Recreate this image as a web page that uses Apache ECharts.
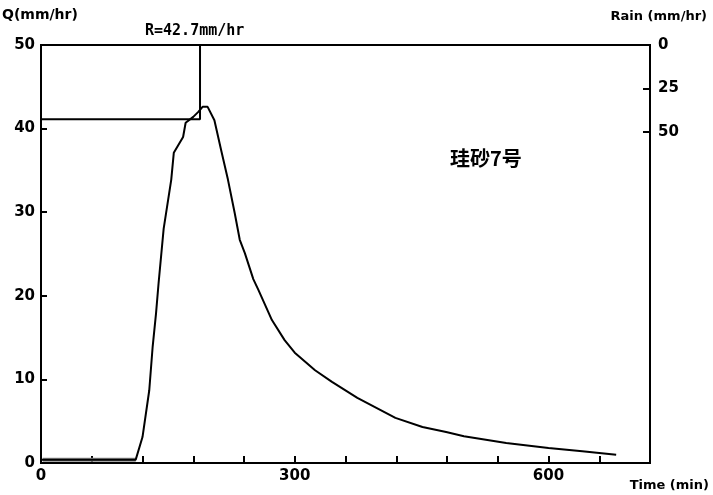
<!DOCTYPE html>
<html>
<head>
<meta charset="utf-8">
<script src="https://cdn.jsdelivr.net/npm/echarts@6/dist/echarts.min.js"></script>
<style>
  html, body { margin: 0; padding: 0; background: #fff; }
  #chart { width: 713px; height: 495px; }
</style>
</head>
<body>
<div id="chart"></div>
<script>
// discharge Q (mm/hr) vs time (min)
const qTime = [0, 112, 114, 120, 128, 132, 136, 139, 145, 154, 157, 168, 171, 180, 186, 191, 197, 205, 213, 221, 229, 235, 241, 251, 257, 273, 288, 300, 324, 344, 374, 419, 451, 479, 500, 550, 600, 640, 680];
const qValue = [0.4, 0.4, 0.3, 3.1, 8.7, 13.9, 17.9, 21.5, 28.0, 33.9, 37.1, 39.0, 40.7, 41.4, 42.0, 42.6, 42.6, 41.0, 37.4, 33.9, 29.9, 26.7, 25.1, 22.0, 20.7, 17.1, 14.7, 13.2, 11.1, 9.7, 7.8, 5.4, 4.3, 3.7, 3.2, 2.4, 1.8, 1.4, 1.0];

// baseline before runoff starts (grey band)
const baseTime = [2, 112];
const baseValue = [0.4, 0.4];

// rainfall intensity (mm/hr), plotted downward from the top
const rainTime = [0, 188, 188];
const rainValue = [42.7, 42.7, 0];

const timeLabels = [0, 300, 600];
const rainLabels = [0, 25, 50];

const font = '"DejaVu Sans", sans-serif';
const chart = echarts.init(document.getElementById('chart'));

const pairs = (xs, ys) => xs.map((x, i) => [x, ys[i]]);

chart.setOption({
  animation: false,
  backgroundColor: '#fff',
  grid: { left: 41, right: 63, top: 45, bottom: 32, show: true, borderColor: '#000', borderWidth: 2 },
  graphic: [
    { type: 'text', left: 2, top: 8, style: { text: 'Q(mm/hr)', font: 'bold 14px ' + font, fill: '#000' } },
    { type: 'text', left: 145, top: 24, style: { text: 'R=42.7mm/hr', font: 'bold 15px "DejaVu Sans Mono", monospace', fill: '#000' } },
    { type: 'text', right: 6, top: 10, style: { text: 'Rain (mm/hr)', font: 'bold 13px ' + font, fill: '#000' } },
    { type: 'text', right: 4, top: 479, style: { text: 'Time (min)', font: 'bold 13px ' + font, fill: '#000' } },
    { type: 'text', left: 450, top: 148, style: { text: '珪砂7号', font: 'bold 20px "Noto Sans CJK JP", sans-serif', fill: '#000' } }
  ],
  xAxis: {
    type: 'value', min: 0, max: 720, interval: 60,
    axisLine: { lineStyle: { color: '#000', width: 2 } },
    axisTick: { inside: true, length: 7, lineStyle: { color: '#000', width: 2 } },
    axisLabel: { customValues: timeLabels, color: '#000', fontFamily: font, fontWeight: 'bold', fontSize: 15, margin: 6 },
    splitLine: { show: false }
  },
  yAxis: [
    {
      type: 'value', min: 0, max: 50, interval: 10,
      axisLine: { show: true, lineStyle: { color: '#000', width: 2 } },
      axisTick: { show: true, inside: true, length: 6, lineStyle: { color: '#000', width: 2 } },
      axisLabel: { color: '#000', fontFamily: font, fontWeight: 'bold', fontSize: 15, margin: 6 },
      splitLine: { show: false }
    },
    {
      type: 'value', min: 0, max: 240, interval: 24, inverse: true, position: 'right',
      axisLine: { show: true, lineStyle: { color: '#000', width: 2 } },
      axisTick: { show: true, inside: true, length: 7, customValues: [25, 50], lineStyle: { color: '#000', width: 2 } },
      axisLabel: { customValues: rainLabels, color: '#000', fontFamily: font, fontWeight: 'bold', fontSize: 15, margin: 8 },
      splitLine: { show: false }
    }
  ],
  series: [
    {
      name: 'base', type: 'line', yAxisIndex: 0, showSymbol: false,
      data: pairs(baseTime, baseValue),
      lineStyle: { color: '#888', width: 4 }
    },
    {
      name: 'Q', type: 'line', yAxisIndex: 0, showSymbol: false,
      data: pairs(qTime, qValue),
      lineStyle: { color: '#000', width: 2 }
    },
    {
      name: 'Rain', type: 'line', yAxisIndex: 1, showSymbol: false,
      data: pairs(rainTime, rainValue),
      lineStyle: { color: '#000', width: 2 }
    }
  ]
});
</script>
</body>
</html>
